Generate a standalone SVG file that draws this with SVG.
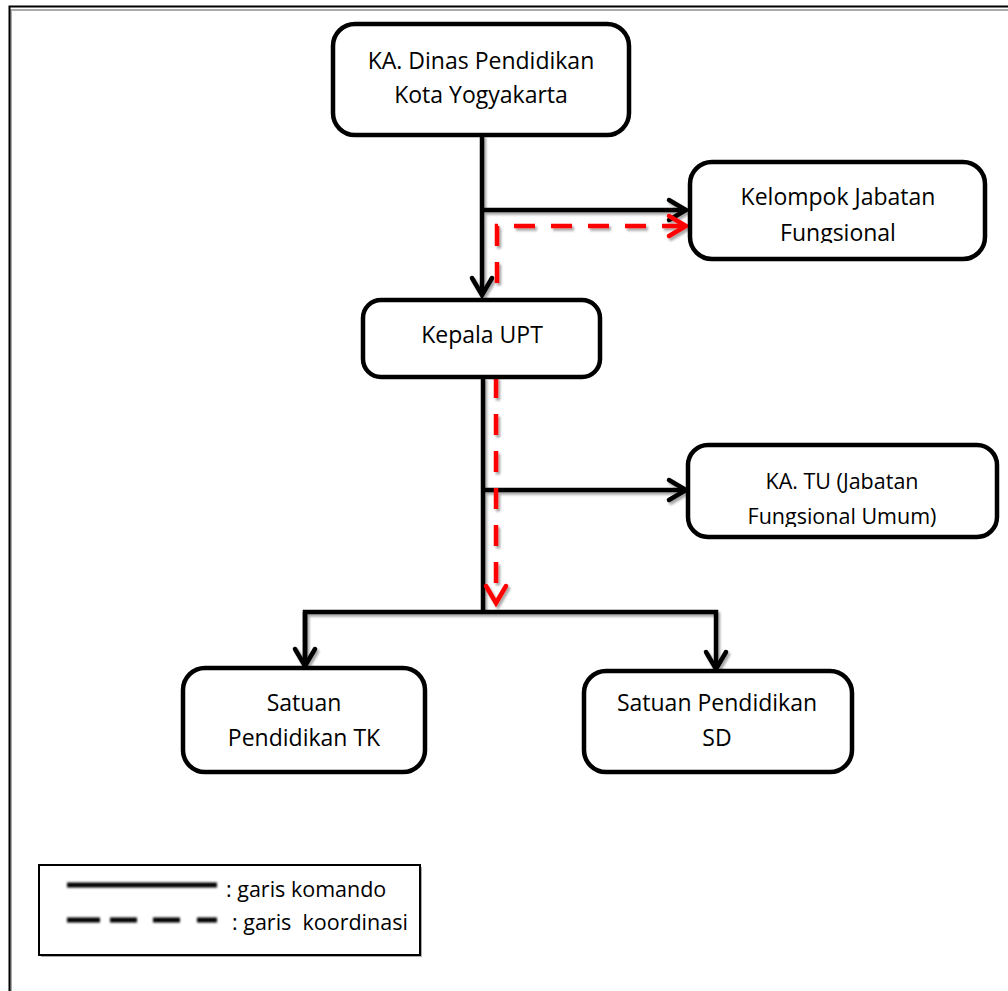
<svg xmlns="http://www.w3.org/2000/svg" width="1008" height="991" viewBox="0 0 1008 991">
<style>
.box{fill:#fff;stroke:#000;stroke-width:4.5}
.t{font-family:"Open Sans","Liberation Sans",sans-serif;font-size:23px;fill:#000;text-anchor:middle}
.k{fill:none;stroke:#000;stroke-width:4.5}
.r{fill:none;stroke:#f00;stroke-width:4.5;stroke-dasharray:21 16}
.lg{font-family:"Open Sans","Liberation Sans",sans-serif;font-size:21.5px;fill:#000}
</style>
<defs>
<filter id="sh" filterUnits="userSpaceOnUse" x="0" y="0" width="1008" height="991">
<feDropShadow dx="2" dy="2.5" stdDeviation="0.8" flood-color="#000" flood-opacity="0.35"/>
</filter>
<filter id="bl" filterUnits="userSpaceOnUse" x="0" y="0" width="1008" height="991">
<feGaussianBlur stdDeviation="0.9"/>
<feOffset dx="0" dy="0" result="a"/>
</filter>
<marker id="ak" markerUnits="userSpaceOnUse" markerWidth="30" markerHeight="30" viewBox="-24 -15 30 30" refX="0" refY="0" orient="auto">
<path d="M-17,-10 L0,0 L-17,10" fill="none" stroke="#000" stroke-width="4.5" stroke-linecap="round" stroke-linejoin="miter"/>
</marker>
<marker id="ar" markerUnits="userSpaceOnUse" markerWidth="30" markerHeight="30" viewBox="-24 -15 30 30" refX="0" refY="0" orient="auto">
<path d="M-17,-10 L0,0 L-17,10" fill="none" stroke="#f00" stroke-width="4.5" stroke-linecap="round" stroke-linejoin="miter"/>
</marker>
<clipPath id="c1"><rect x="690" y="162" width="295" height="81"/></clipPath>
<clipPath id="c2"><rect x="688" y="445" width="309" height="82"/></clipPath>
</defs>
<rect x="0" y="0" width="1008" height="991" fill="#fff"/>
<g id="frame">
<path d="M11,991 V10 H1008" fill="none" stroke="#aaa" stroke-width="2"/>
<path d="M9.5,991 V6.5 H1008" fill="none" stroke="#000" stroke-width="2"/>
</g>
<g id="connectors" filter="url(#sh)">
<path class="k" d="M482,135 V295" marker-end="url(#ak)"/>
<path class="k" d="M482,210 H686" marker-end="url(#ak)"/>
<path class="r" d="M497,283 V226 H686" marker-end="url(#ar)"/>
<path class="k" d="M483,377 V614"/>
<path class="k" d="M483,490 H686" marker-end="url(#ak)"/>
<path class="r" d="M496,377 V603" marker-end="url(#ar)"/>
<path class="k" d="M305,666 V612 H716 V669" marker-end="url(#ak)"/>
<path class="k" d="M305,612 V666" marker-end="url(#ak)"/>
</g>
<g id="n1">
<rect class="box" x="333" y="24" width="296" height="111" rx="22"/>
<text class="t" x="481" y="69">KA. Dinas Pendidikan</text>
<text class="t" x="481" y="103">Kota Yogyakarta</text>
</g>
<g id="n2">
<rect class="box" x="690" y="162" width="295" height="97" rx="22"/>
<g clip-path="url(#c1)">
<text class="t" x="838" y="205">Kelompok Jabatan</text>
<text class="t" x="838" y="241">Fungsional</text>
</g>
</g>
<g id="n3">
<rect class="box" x="363" y="300" width="237" height="77" rx="18"/>
<text class="t" x="482" y="343">Kepala UPT</text>
</g>
<g id="n4">
<rect class="box" x="688" y="445" width="309" height="92" rx="20"/>
<g clip-path="url(#c2)">
<text class="t" x="842" y="489" style="font-size:21.5px">KA. TU (Jabatan</text>
<text class="t" x="842" y="524" style="font-size:21.5px">Fungsional Umum)</text>
</g>
</g>
<g id="n5">
<rect class="box" x="183" y="668" width="242" height="104" rx="22"/>
<text class="t" x="304" y="711">Satuan</text>
<text class="t" x="304" y="746">Pendidikan TK</text>
</g>
<g id="n6">
<rect class="box" x="584" y="671" width="268" height="101" rx="22"/>
<text class="t" x="717" y="711">Satuan Pendidikan</text>
<text class="t" x="717" y="746">SD</text>
</g>
<g id="legend">
<rect x="41" y="867" width="381" height="90" fill="#aaa"/>
<rect x="39" y="865" width="381" height="90" fill="#fff" stroke="#000" stroke-width="2"/>
<line x1="67" y1="885" x2="217" y2="885" stroke="#000" stroke-width="5" filter="url(#bl)"/>
<line x1="67" y1="920" x2="217" y2="920" stroke="#000" stroke-width="5" stroke-dasharray="33 10 27 16 27 17 20" filter="url(#bl)"/>
<text class="lg" x="226" y="897">: garis komando</text>
<text class="lg" x="232" y="930" xml:space="preserve">: garis  koordinasi</text>
</g>
</svg>
